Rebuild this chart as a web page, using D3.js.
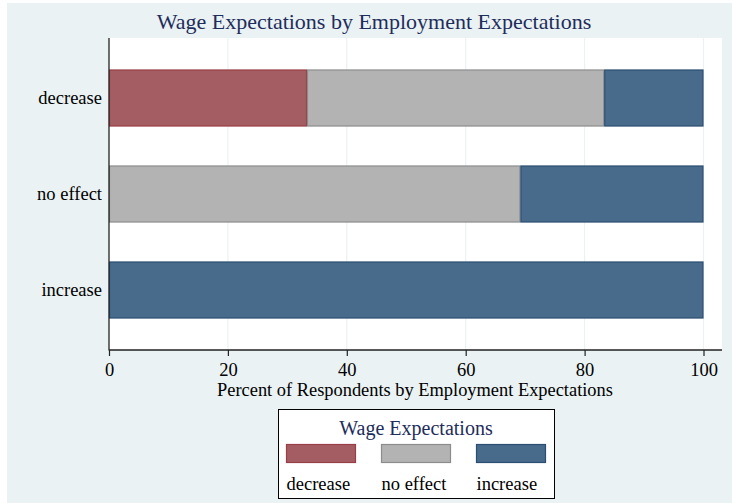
<!DOCTYPE html>
<html>
<head>
<meta charset="utf-8">
<script src="https://cdn.jsdelivr.net/npm/d3@7"></script>
<style>
  html, body { margin: 0; padding: 0; background: #ffffff; }
  svg { display: block; }
  text { font-family: "Liberation Serif", "Times New Roman", serif; }
</style>
</head>
<body>
<svg id="chart" width="732" height="503"></svg>
<script>
// ---- data ----
const rowCategories = ["decrease", "no effect", "increase"];      // employment expectations (rows)
const seriesNames   = ["decrease", "no effect", "increase"];      // wage expectations (stack series)
const decreaseVals  = [33.3, 0, 0];
const noEffectVals  = [50.0, 69.2, 0];
const increaseVals  = [16.7, 30.8, 100];
const xTicks        = [0, 20, 40, 60, 80, 100];
const chartTitle    = "Wage Expectations by Employment Expectations";
const xAxisTitle    = "Percent of Respondents by Employment Expectations";
const legendTitle   = "Wage Expectations";

const fills   = ["#a45d63", "#b3b3b3", "#486b8c"];
const strokes = ["#993e46", "#8c8c8c", "#2c4e72"];

const table = rowCategories.map((c, i) => ({
  cat: c, "decrease": decreaseVals[i], "no effect": noEffectVals[i], "increase": increaseVals[i]
}));
const stacked = d3.stack().keys(seriesNames)(table);

const svg = d3.select("#chart");
const W = 732, H = 503;

// outer background
svg.append("rect").attr("x", 7).attr("y", 3).attr("width", W - 7).attr("height", H - 3)
  .attr("fill", "#eaf2f3");

// plot region
const plot = { left: 109, right: 722, top: 38, bottom: 350 };
svg.append("rect").attr("x", plot.left).attr("y", plot.top)
  .attr("width", plot.right - plot.left).attr("height", plot.bottom - plot.top)
  .attr("fill", "#ffffff");

const x = d3.scaleLinear().domain([0, 100]).range([plot.left, 703.5]);
const y = d3.scaleBand().domain(rowCategories).range([plot.top, plot.bottom])
  .paddingInner(0.406).paddingOuter(0.328);

// gridlines
svg.append("g").selectAll("line").data(xTicks.slice(1)).join("line")
  .attr("x1", d => x(d)).attr("x2", d => x(d))
  .attr("y1", plot.top).attr("y2", plot.bottom)
  .attr("stroke", "#eaf2f3").attr("stroke-width", 1.2);

// bars
svg.append("g").selectAll("g").data(stacked).join("g")
  .attr("fill", (d, i) => fills[i]).attr("stroke", (d, i) => strokes[i])
  .selectAll("rect").data(d => d.filter(s => s[1] - s[0] > 0)).join("rect")
  .attr("x", d => x(d[0]) + 0.5)
  .attr("y", d => y(d.data.cat) + 0.5)
  .attr("width", d => x(d[1]) - x(d[0]) - 1)
  .attr("height", y.bandwidth() - 1)
  .attr("stroke-width", 1.2);

// y axis line + labels
svg.append("line").attr("x1", plot.left).attr("x2", plot.left)
  .attr("y1", plot.top).attr("y2", plot.bottom + 0.5)
  .attr("stroke", "#222").attr("stroke-width", 1.3);
svg.append("g").selectAll("text").data(rowCategories).join("text")
  .attr("x", 102).attr("y", d => y(d) + y.bandwidth() / 2)
  .attr("dy", "0.33em").attr("text-anchor", "end")
  .attr("font-size", 18.5).attr("fill", "#000").text(d => d);

// x axis
const xAxis = d3.axisBottom(x).tickValues(xTicks).tickSize(6).tickPadding(7).tickFormat(d3.format("d"));
const gx = svg.append("g").attr("transform", `translate(0,${plot.bottom})`).call(xAxis);
gx.select(".domain").remove();
gx.selectAll(".tick line").attr("stroke", "#222").attr("stroke-width", 1.2);
gx.selectAll(".tick text").attr("font-size", 18.5).attr("fill", "#000")
  .attr("font-family", "Liberation Serif, Times New Roman, serif");
svg.append("line").attr("x1", plot.left).attr("x2", plot.right)
  .attr("y1", plot.bottom).attr("y2", plot.bottom)
  .attr("stroke", "#222").attr("stroke-width", 1.3);

// titles
svg.append("text").attr("x", 374).attr("y", 29).attr("text-anchor", "middle")
  .attr("font-size", 22).attr("fill", "#1e2d5c").text(chartTitle);
svg.append("text").attr("x", 415).attr("y", 396).attr("text-anchor", "middle")
  .attr("font-size", 18.4).attr("fill", "#000").text(xAxisTitle);

// legend
const lg = svg.append("g");
lg.append("rect").attr("x", 278.5).attr("y", 409.5).attr("width", 276).attr("height", 89)
  .attr("fill", "#fff").attr("stroke", "#000").attr("stroke-width", 1);
lg.append("text").attr("x", 416).attr("y", 435).attr("text-anchor", "middle")
  .attr("font-size", 20).attr("fill", "#1e2d5c").text(legendTitle);
const lx = d3.scalePoint().domain(seriesNames).range([286.5, 476.5]);
lg.selectAll("rect.sw").data(seriesNames).join("rect").attr("class", "sw")
  .attr("x", d => lx(d)).attr("y", 444.5).attr("width", 69).attr("height", 18)
  .attr("fill", (d, i) => fills[i]).attr("stroke", (d, i) => strokes[i]).attr("stroke-width", 1.2);
lg.selectAll("text.lb").data(seriesNames).join("text").attr("class", "lb")
  .attr("x", d => lx(d)).attr("y", 490).attr("text-anchor", "start")
  .attr("font-size", 18.5).attr("fill", "#000").text(d => d);
</script>
</body>
</html>
